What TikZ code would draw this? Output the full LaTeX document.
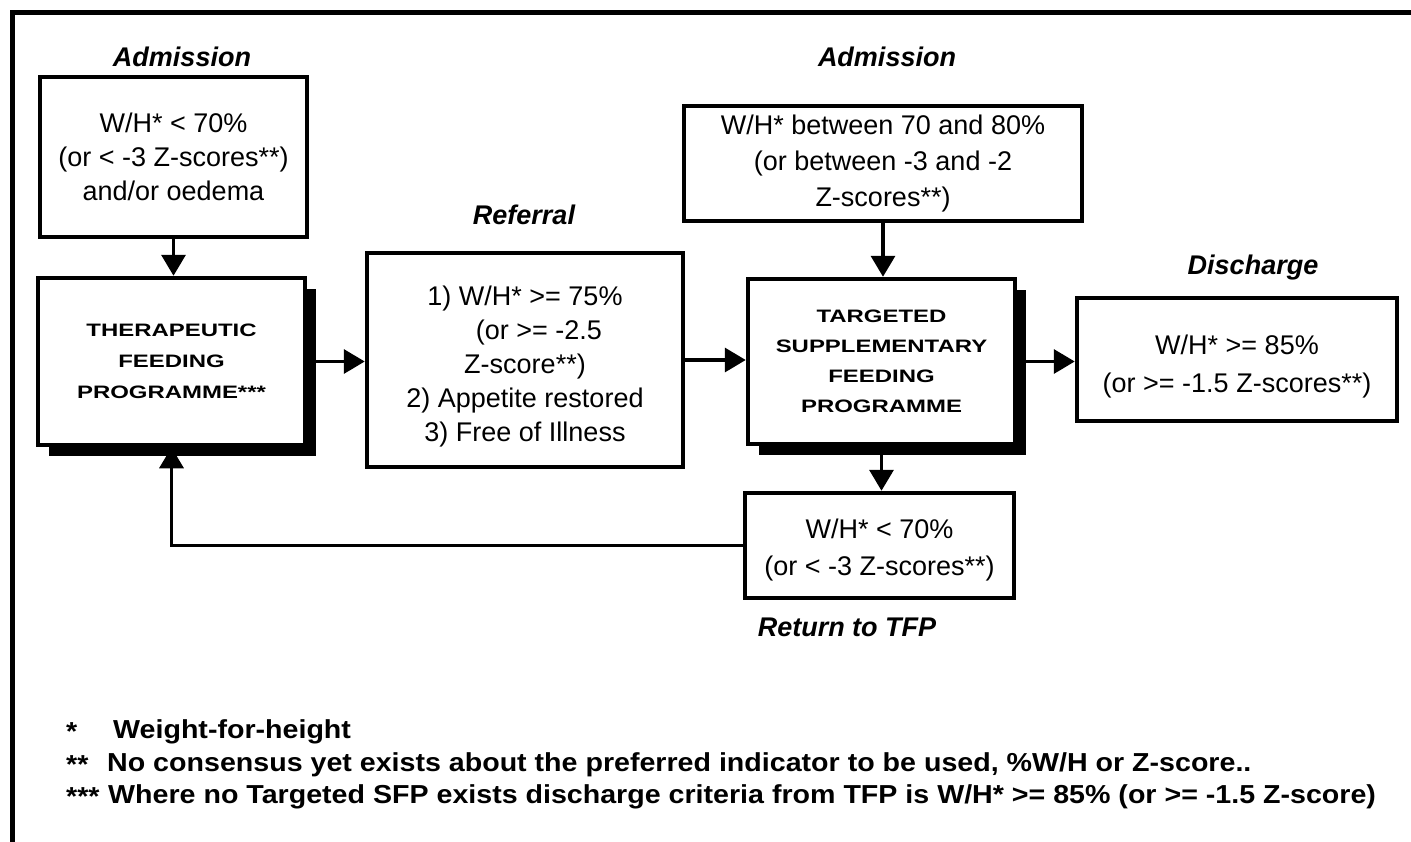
\documentclass[tikz,border=0pt]{standalone}
\usepackage{fontspec}
\setmainfont{Liberation Sans}
\newfontfamily\progfont{Liberation Sans}[FakeStretch=1.33]
\newfontfamily\footfont{Liberation Sans}[FakeStretch=1.1]
\usetikzlibrary{arrows.meta,shadows}
\tikzset{
  box/.style={draw, line width=4.5pt, fill=white, inner sep=0pt, align=center,
    font=\fontsize{27}{34}\selectfont},
  sbox/.style={box, drop shadow={shadow xshift=11pt, shadow yshift=-11pt, opacity=1, fill=black},
    font=\fontsize{18}{31}\selectfont\progfont\bfseries},
  arr/.style={line width=3.5pt, -{Triangle[length=21pt,width=24pt]}},
  head/.style={font=\fontsize{27}{30}\selectfont\bfseries\itshape, inner sep=0pt},
  foot/.style={font=\fontsize{26}{30}\selectfont\footfont\bfseries, inner sep=0pt, anchor=west},
}
\begin{document}
\begin{tikzpicture}[x=1pt,y=-1pt]
\clip (0,0) rectangle (1411,841);
\fill[white] (0,0) rectangle (1411,841);
\draw[line width=5pt] (12,860) -- (12,12) -- (1430,12);

% boxes
\node[box, minimum width=267pt, minimum height=160pt] (adm1) at (173.5,157)
  {W/H* < 70\%\\(or < -3 Z-scores**)\\and/or oedema};
\node[sbox, minimum width=267pt, minimum height=167pt] (tfp) at (171.5,361.5)
  {THERAPEUTIC\\FEEDING\\PROGRAMME***};
\node[box, minimum width=316pt, minimum height=214pt] (ref) at (525,360)
  {\rule{0pt}{32pt}1) W/H* >= 75\%\\\hspace*{28pt}(or >= -2.5\\Z-score**)\\2) Appetite restored\\3) Free of Illness};
\node[box, minimum width=398pt, minimum height=115pt, font=\fontsize{27}{36}\selectfont] (adm2) at (883,163.5)
  {W/H* between 70 and 80\%\\(or between -3 and -2\\Z-scores**)};
\node[sbox, minimum width=267pt, minimum height=165pt, font=\fontsize{18}{30}\selectfont\progfont\bfseries] (tsfp) at (881.5,361.5)
  {TARGETED\\SUPPLEMENTARY\\FEEDING\\PROGRAMME};
\node[box, minimum width=320pt, minimum height=123pt, font=\fontsize{27}{38}\selectfont] (dis) at (1237,359.5)
  {\rule{0pt}{34pt}W/H* >= 85\%\\(or >= -1.5 Z-scores**)};
\node[box, minimum width=269pt, minimum height=105pt, font=\fontsize{27}{37}\selectfont] (ret) at (879.5,545.5)
  {\rule{0pt}{28pt}W/H* < 70\%\\(or < -3 Z-scores**)};

% labels
\node[head] (l1) at (182,57) {Admission};
\node[head] (l2) at (887,57) {Admission};
\node[head] (l3) at (524,215) {Referral};
\node[head] (l4) at (1253,268) {Discharge};
\node[head] (l5) at (847,627) {Return to TFP};

% connectors
\draw[arr] (adm1.south) -- (adm1.south |- tfp.north);
\draw[arr] (tfp.east) -- (tfp.east -| ref.west);
\draw[arr] (ref.east) -- (ref.east -| tsfp.west);
\draw[arr] (tsfp.east) -- (tsfp.east -| dis.west);
\draw[arr] (adm2.south) -- (adm2.south |- tsfp.north);
\draw[arr] (tsfp.south) -- (tsfp.south |- ret.north);
\draw[arr] (ret.west) -| (tfp.south);

% footnotes
\node[foot] (f1a) at (66,732) {*};
\node[foot] (f1b) at (113,732) {Weight-for-height};
\node[foot] (f2a) at (66,765) {**};
\node[foot] (f2b) at (107,765) {No consensus yet exists about the preferred indicator to be used, \%W/H or Z-score..};
\node[foot] (f3a) at (66,797) {***};
\node[foot] (f3b) at (108,797) {Where no Targeted SFP exists discharge criteria from TFP is W/H* >= 85\% (or >= -1.5 Z-score)};
\end{tikzpicture}
\end{document}
